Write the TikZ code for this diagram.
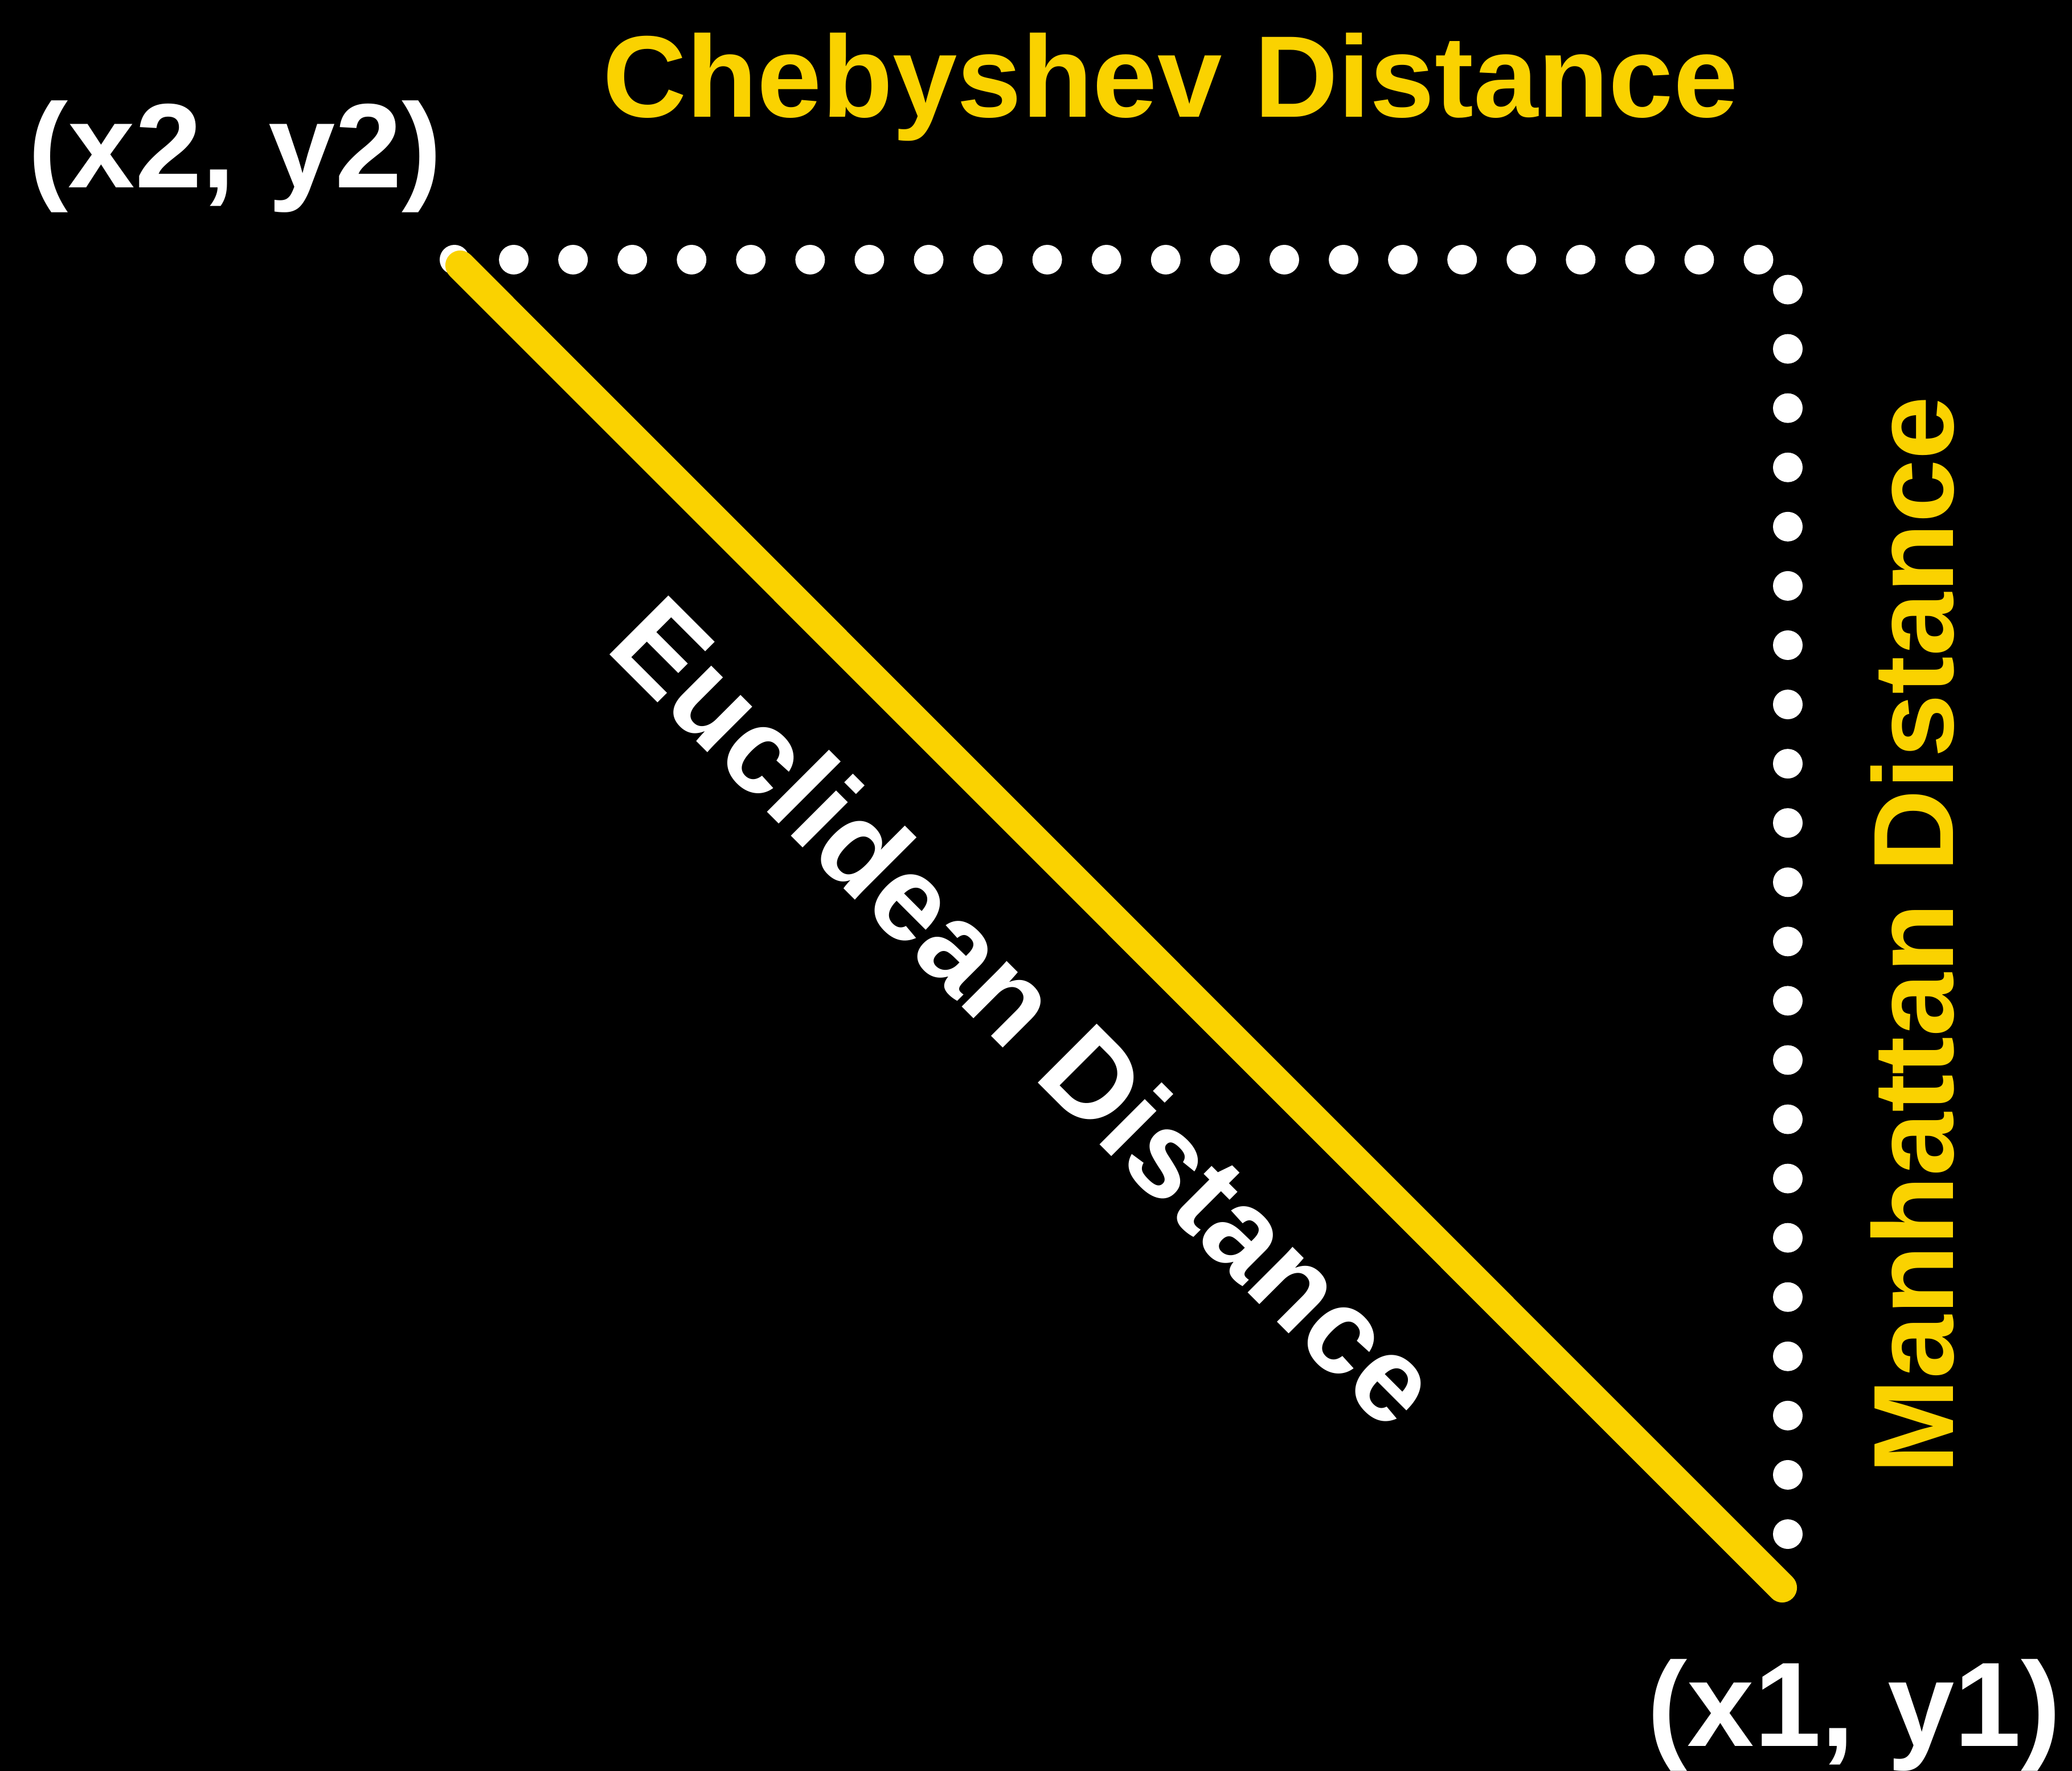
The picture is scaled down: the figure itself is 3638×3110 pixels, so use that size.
\documentclass[tikz,border=0pt]{standalone}
\usepackage{fontspec}
\setmainfont{Liberation Sans}
\usetikzlibrary{positioning}
\definecolor{cY}{HTML}{FAD200}
\tikzset{
  lbl/.style={font=\bfseries\fontsize{60pt}{60pt}\selectfont,text=white,inner sep=0pt},
  ttl/.style={font=\bfseries\fontsize{58pt}{58pt}\selectfont,text=cY,inner sep=0pt},
  dotrow/.style={draw=white,line width=5.2mm,line cap=round,
                 dash pattern=on 0pt off 10.407mm},
  diag/.style={draw=cY,line width=5.2mm,line cap=round,
               shorten <=1.4mm,shorten >=1.4mm},
}
\begin{document}
\begin{tikzpicture}[x=0.1mm,y=-0.1mm]
  \fill[black](0,0) rectangle (3638,3110);
  \useasboundingbox (0,0) rectangle (3638,3110);
  \coordinate (p2) at (798,456);
  \coordinate (p1) at (3139,2798);
  \draw[dotrow](p2) -| (p1);
  \draw[diag](p2) -- (p1);
  \node[lbl,anchor=base](x2) at (413,330){(x2, y2)};
  \node[lbl,anchor=base](x1) at (3256,3066){(x1, y1)};
  \node[ttl,anchor=base](cheb) at (2055,206){Chebyshev Distance};
  \node[ttl,anchor=base,rotate=90,font=\bfseries\fontsize{57pt}{57pt}\selectfont]
    (manh) at (3429,1642){Manhattan Distance};
  \node[lbl,anchor=base west,rotate=-45,font=\bfseries\fontsize{60.5pt}{60pt}\selectfont]
    (eucl) at (1060,1139){Euclidean Distance};
\end{tikzpicture}
\end{document}
